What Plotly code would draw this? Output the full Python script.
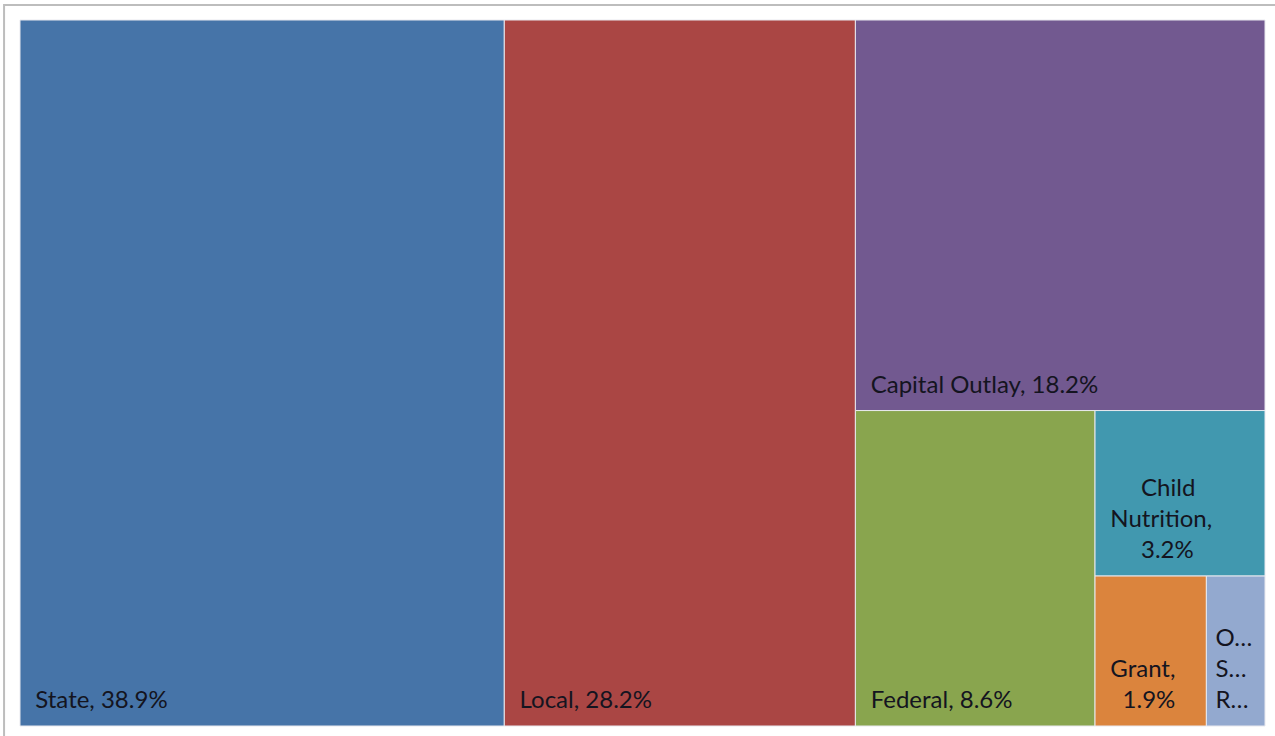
import plotly.graph_objects as go

# Revenue share by source (percent of total)
sources = ["State", "Local", "Capital Outlay", "Federal", "Child Nutrition", "Grant", "Other State Revenue"]
shares = [38.9, 28.2, 18.2, 8.6, 3.2, 1.9, 1.0]

# Tile captions; non-breaking spaces inset the text and centre the wrapped lines,
# and a tall trailing space lifts the caption off the tile's bottom edge
LIFT = "<span style='font-size:70px'>&nbsp;</span>"
# hair-space version for the narrowest tile, so the caption keeps its size
LIFT_NARROW = "<span style='font-size:70px'>\u200a</span>"
tile_labels = [
    "&nbsp;&nbsp;State, 38.9%" + LIFT,
    "&nbsp;&nbsp;Local, 28.2%" + LIFT,
    "&nbsp;&nbsp;Capital Outlay, 18.2%" + LIFT,
    "&nbsp;&nbsp;Federal, 8.6%" + LIFT,
    "&nbsp;&nbsp;&nbsp;&nbsp;&nbsp;&nbsp;&nbsp;Child<br>&nbsp;&nbsp;Nutrition,<br>&nbsp;&nbsp;&nbsp;&nbsp;&nbsp;&nbsp;&nbsp;3.2%" + LIFT,
    "&nbsp;&nbsp;Grant,<br>&nbsp;&nbsp;&nbsp;&nbsp;1.9%" + LIFT,
    "&nbsp;O…<br>&nbsp;S…<br>&nbsp;R…" + LIFT_NARROW,
]
colors = ["#4674A8", "#AA4644", "#725990", "#89A54E", "#4198AF", "#DB843D", "#93A9CF"]

fig = go.Figure(
    go.Treemap(
        labels=sources,
        parents=[""] * len(sources),
        values=shares,
        text=tile_labels,
        texttemplate="%{text}",
        textposition="bottom left",
        textfont=dict(family="Lato, 'Open Sans', sans-serif", size=24, color="#141420"),
        marker=dict(colors=colors, line=dict(color="#E8E8EE", width=1), pad=dict(t=0, l=0, r=0, b=0)),
        tiling=dict(packing="squarify", squarifyratio=1, pad=0),
        pathbar=dict(visible=False),
        sort=True,
        hoverinfo="label+value",
    )
)

fig.update_layout(
    width=1275,
    height=736,
    margin=dict(l=20, r=10, t=20, b=10),
    paper_bgcolor="white",
    showlegend=False,
    shapes=[
        dict(
            type="rect", xref="paper", yref="paper",
            x0=-0.0128, x1=1.05, y0=-0.05, y1=1.0213,
            line=dict(color="#BDBDBD", width=2), fillcolor="rgba(0,0,0,0)",
        )
    ],
)

fig.write_html("out.html")
